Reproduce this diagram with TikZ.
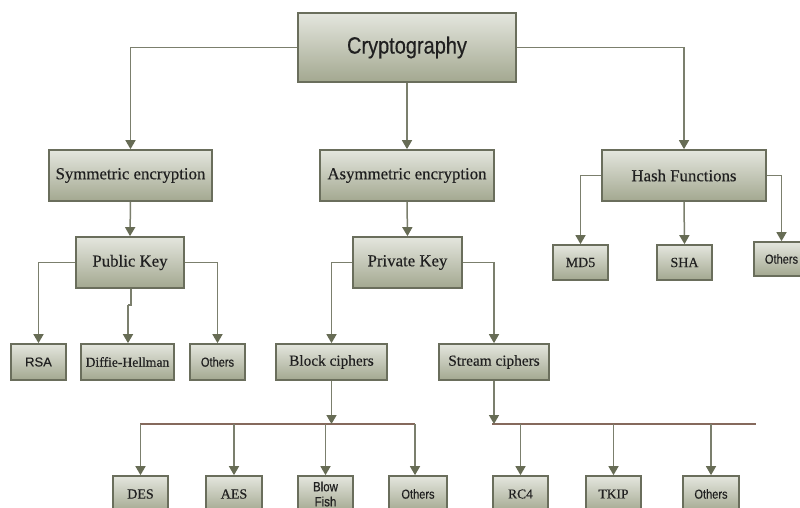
\documentclass[tikz,border=0pt]{standalone}
\usepackage{fontspec}
\setmainfont[FakeBold=0.4]{Liberation Serif}
\newfontfamily\sansreg[FakeBold=0.3]{Liberation Sans}
\newfontfamily\sansnarrow[FakeStretch=0.85,FakeBold=0.4]{Liberation Sans}
\usetikzlibrary{arrows.meta}
\definecolor{boxtop}{HTML}{E4E6DE}
\definecolor{boxbot}{HTML}{A3A890}
\definecolor{boxedge}{HTML}{6A6E5C}
\definecolor{linec}{HTML}{7B7F6D}
\definecolor{tipc}{HTML}{676C55}
\definecolor{busc}{HTML}{85695C}
\definecolor{textc}{HTML}{202020}
\tikzset{
  box/.style={draw=boxedge, line width=1.7pt, top color=boxtop, bottom color=boxbot,
    inner sep=0pt, text=textc, align=center},
  conn/.style={draw=linec, line width=1.5pt,
    -{Triangle[width=10pt,length=9pt,fill=tipc,color=tipc]}},
  plain/.style={draw=linec, line width=1.5pt},
  bus/.style={draw=busc, line width=2.2pt},
  big/.style={font=\fontsize{16.8}{18}\selectfont},
}
\begin{document}
\begin{tikzpicture}[x=1pt,y=-1pt]
\useasboundingbox (0,0) rectangle (800,508);
\fill[white] (0,0) rectangle (800,508);
\clip (0,0) rectangle (800,508);

% top level
\node[box, minimum width=218pt, minimum height=69pt, font=\sansnarrow\fontsize{23.5}{25}\selectfont] (crypto) at (407,47.5) {Cryptography};

% second level
\node[box, big, minimum width=163pt, minimum height=51pt] (sym) at (130.5,175.5) {Symmetric encryption};
\node[box, big, minimum width=174pt, minimum height=51pt] (asym) at (407,175.5) {Asymmetric encryption};
\node[box, big, minimum width=164pt, minimum height=51pt] (hash) at (684,175.5) {Hash Functions};

% third level
\node[box, big, minimum width=108pt, minimum height=51pt] (pub) at (130,262.5) {Public Key};
\node[box, big, minimum width=109pt, minimum height=51pt] (priv) at (407.5,262.5) {Private Key};

\node[box, minimum width=55pt, minimum height=35pt, font=\fontsize{14}{16}\selectfont] (md5) at (580.5,262.5) {MD5};
\node[box, minimum width=55pt, minimum height=35pt, font=\fontsize{14}{16}\selectfont] (sha) at (684.5,262.5) {SHA};
\node[box, minimum width=55pt, minimum height=34pt, font=\sansnarrow\fontsize{13}{15}\selectfont] (oth2) at (781.5,259) {Others};

% fourth level
\node[box, minimum width=55pt, minimum height=36pt, font=\sansreg\fontsize{13}{15}\selectfont] (rsa) at (38.5,362) {RSA};
\node[box, minimum width=93pt, minimum height=36pt, font=\fontsize{13.6}{15}\selectfont] (dh) at (127.5,362) {Diffie-Hellman};
\node[box, minimum width=55pt, minimum height=36pt, font=\sansnarrow\fontsize{13}{15}\selectfont] (oth1) at (217.5,362) {Others};
\node[box, minimum width=111pt, minimum height=36pt, font=\fontsize{15.3}{17}\selectfont] (block) at (331.5,362) {Block ciphers};
\node[box, minimum width=110pt, minimum height=36pt, font=\fontsize{15.3}{17}\selectfont] (stream) at (494,362) {Stream ciphers};

% bottom level
\node[box, minimum width=55pt, minimum height=36pt, font=\fontsize{14}{16}\selectfont] (des) at (140.5,494) {DES};
\node[box, minimum width=56pt, minimum height=36pt, font=\fontsize{14}{16}\selectfont] (aes) at (234,494) {AES};
\node[box, minimum width=55pt, minimum height=36pt, font=\sansnarrow\fontsize{13.5}{15}\selectfont] (blow) at (325.5,494) {Blow\\Fish};
\node[box, minimum width=58pt, minimum height=36pt, font=\sansnarrow\fontsize{13}{15}\selectfont] (oth3) at (418,494) {Others};
\node[box, minimum width=55pt, minimum height=36pt, font=\fontsize{13.5}{15}\selectfont] (rc4) at (520.5,494) {RC4};
\node[box, minimum width=55pt, minimum height=36pt, font=\fontsize{13.5}{15}\selectfont] (tkip) at (613.5,494) {TKIP};
\node[box, minimum width=56pt, minimum height=36pt, font=\sansnarrow\fontsize{13}{15}\selectfont] (oth4) at (711,494) {Others};

% connectors from Cryptography
\draw[conn] (crypto.west) -| (sym.north);
\draw[conn] (crypto.south) -- (asym.north);
\draw[conn] (crypto.east) -| (hash.north);

\draw[conn] (sym.south) -- (pub.north);
\draw[conn] (asym.south) -- (priv.north);

% Public Key children
\draw[conn] (pub.west) -| (rsa.north);
\coordinate (dhj1) at (131,305);
\coordinate (dhj2) at (128,305);
\draw[plain] (pub.south -| dhj1) -- (dhj1) -- (dhj2);
\draw[conn] (dhj2) -- (dh.north -| dhj2);
\draw[conn] (pub.east) -| (oth1.north);

% Private Key children
\draw[conn] (priv.west) -| (block.north);
\draw[conn] (priv.east) -| (stream.north);

% Hash children
\draw[conn] (hash.west) -| (md5.north);
\draw[conn] (hash.south) -- (sha.north);
\draw[conn] (hash.east) -| (oth2.north);

% block cipher bus
\coordinate (busL1) at (140,424);
\coordinate (busL2) at (415,424);
\draw[bus] (busL1) -- (busL2);
\draw[conn] (block.south) -- (block.south |- busL1);
\draw[conn] (des.north |- busL1) -- (des.north);
\draw[conn] (aes.north |- busL1) -- (aes.north);
\draw[conn] (blow.north |- busL1) -- (blow.north);
\coordinate (d4) at (415,424);
\draw[conn] (d4) -- (oth3.north -| d4);

% stream cipher bus
\coordinate (busR1) at (492,424);
\coordinate (busR2) at (756,424);
\draw[bus] (busR1) -- (busR2);
\draw[conn] (stream.south) -- (stream.south |- busR1);
\draw[conn] (rc4.north |- busR1) -- (rc4.north);
\draw[conn] (tkip.north |- busR1) -- (tkip.north);
\draw[conn] (oth4.north |- busR1) -- (oth4.north);
\end{tikzpicture}
\end{document}
